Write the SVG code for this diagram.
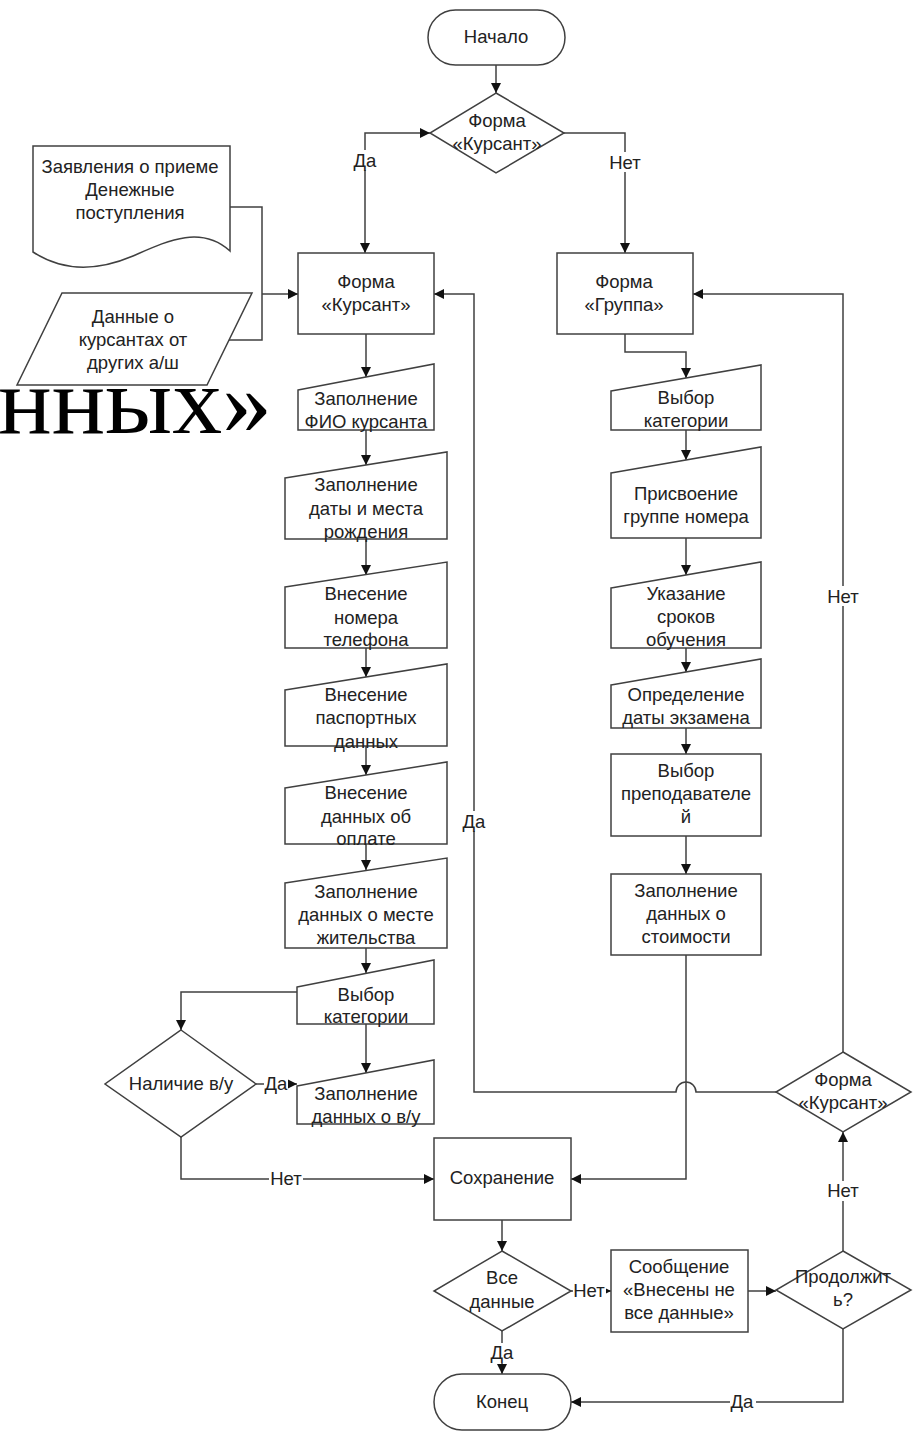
<svg xmlns="http://www.w3.org/2000/svg" width="913" height="1431" viewBox="0 0 913 1431">
<defs>
<marker id="ah" viewBox="0 0 10 10" refX="10" refY="5" markerWidth="10" markerHeight="10" markerUnits="userSpaceOnUse" orient="auto-start-reverse">
<path d="M0,0 L10,5 L0,10 z" fill="#111"/>
</marker>
<style>
.s{fill:#fff;stroke:#404040;stroke-width:1.5}
.c{fill:none;stroke:#404040;stroke-width:1.5}
.a{marker-end:url(#ah)}
text{font-family:"Liberation Sans",Arial,sans-serif;font-size:18.5px;fill:#222;text-anchor:middle}
.lb{fill:#fff;stroke:none}
.big{font-family:"Liberation Serif","Times New Roman",serif;font-size:96px;fill:#000;text-anchor:end}
</style>
</defs>
<rect width="913" height="1431" fill="#fff"/>
<g id="connectors">
<path class="c a" d="M496,65 V93"/>
<path class="c a" d="M430,133 H365 V253" marker-start="url(#ah)"/>
<path class="c a" d="M564,133 H625 V253"/>
<path class="c" d="M230,207 H262 V340 H229"/>
<path class="c a" d="M262,294 H298"/>
<path class="c a" d="M366,334 V377"/>
<path class="c a" d="M366,430 V465"/>
<path class="c a" d="M366,539 V575"/>
<path class="c a" d="M366,648 V677"/>
<path class="c a" d="M366,746 V775"/>
<path class="c a" d="M366,844 V870"/>
<path class="c a" d="M366,948 V973"/>
<path class="c a" d="M366,1024 V1073"/>
<path class="c a" d="M297,992 H181 V1030"/>
<path class="c a" d="M256,1084 H297"/>
<path class="c a" d="M181,1137 V1179 H434"/>
<path class="c a" d="M625,334 V352 H686 V378"/>
<path class="c a" d="M686,430 V460"/>
<path class="c a" d="M686,538 V575"/>
<path class="c a" d="M686,648 V672"/>
<path class="c a" d="M686,728 V754"/>
<path class="c a" d="M686,836 V874"/>
<path class="c a" d="M686,955 V1179 H571"/>
<path class="c a" d="M776,1092 H696 A10,10 0 0 0 676,1092 H474 V294 H434"/>
<path class="c a" d="M843,1052 V294 H693"/>
<path class="c a" d="M502,1220 V1251"/>
<path class="c a" d="M571,1291 H611"/>
<path class="c a" d="M748,1291 H776"/>
<path class="c a" d="M843,1251 V1132"/>
<path class="c a" d="M502,1331 V1374"/>
<path class="c a" d="M843,1329 V1402 H571"/>
<g id="labels">
<rect class="lb" x="352" y="150" width="26" height="20"/><text x="365" y="167">Да</text>
<rect class="lb" x="608" y="152" width="34" height="20"/><text x="625" y="169">Нет</text>
<rect class="lb" x="461" y="811" width="26" height="20"/><text x="474" y="828">Да</text>
<rect class="lb" x="826" y="586" width="34" height="20"/><text x="843" y="603">Нет</text>
<rect class="lb" x="264" y="1076" width="24" height="16"/><text x="276" y="1090">Да</text>
<rect class="lb" x="269" y="1170" width="34" height="18"/><text x="286" y="1185">Нет</text>
<rect class="lb" x="573" y="1282" width="33" height="18"/><text x="589" y="1297">Нет</text>
<rect class="lb" x="826" y="1181" width="34" height="20"/><text x="843" y="1197">Нет</text>
<rect class="lb" x="490" y="1343" width="24" height="20"/><text x="502" y="1359">Да</text>
<rect class="lb" x="730" y="1393" width="26" height="18"/><text x="742" y="1408">Да</text>
</g>
</g>
<g id="start"><rect class="s" x="428" y="10" width="137" height="55" rx="27.5"/><text x="496" y="43">Начало</text></g>
<g id="dec-form1"><polygon class="s" points="496,93 564,133 496,173 430,133"/><text x="497" y="127">Форма</text><text x="497" y="150">«Курсант»</text></g>
<g id="doc"><path class="s" d="M33,146 H230 V251 C200,224 165,242 133,256 C100,270 65,273 33,252 Z"/><text x="130" y="173">Заявления о приеме</text><text x="130" y="196">Денежные</text><text x="130" y="219">поступления</text></g>
<g id="data-other"><polygon class="s" points="62,293 252,293 207,385 17,385"/><text x="133" y="323">Данные о</text><text x="133" y="346">курсантах от</text><text x="133" y="369">других а/ш</text></g>
<g id="form-kursant"><rect class="s" x="298" y="253" width="136" height="81"/><text x="366" y="288">Форма</text><text x="366" y="311">«Курсант»</text></g>
<g id="form-gruppa"><rect class="s" x="557" y="253" width="136" height="81"/><text x="624" y="288">Форма</text><text x="624" y="311">«Группа»</text></g>
<g id="fio"><polygon class="s" points="298,390 434,364 434,430 298,430"/><text x="366" y="405">Заполнение</text><text x="366" y="428">ФИО курсанта</text></g>
<g id="birth"><polygon class="s" points="285,478 447,452 447,539 285,539"/><text x="366" y="491">Заполнение</text><text x="366" y="515">даты и места</text><text x="366" y="538">рождения</text></g>
<g id="phone"><polygon class="s" points="285,587 447,562 447,648 285,648"/><text x="366" y="600">Внесение</text><text x="366" y="624">номера</text><text x="366" y="646">телефона</text></g>
<g id="passport"><polygon class="s" points="285,690 447,664 447,746 285,746"/><text x="366" y="701">Внесение</text><text x="366" y="724">паспортных</text><text x="366" y="748">данных</text></g>
<g id="payment"><polygon class="s" points="285,788 447,762 447,844 285,844"/><text x="366" y="799">Внесение</text><text x="366" y="823">данных об</text><text x="366" y="845">оплате</text></g>
<g id="address"><polygon class="s" points="285,883 447,858 447,948 285,948"/><text x="366" y="898">Заполнение</text><text x="366" y="921">данных о месте</text><text x="366" y="944">жительства</text></g>
<g id="cat-left"><polygon class="s" points="297,987 434,960 434,1024 297,1024"/><text x="366" y="1001">Выбор</text><text x="366" y="1023">категории</text></g>
<g id="vu-data"><polygon class="s" points="297,1086 434,1060 434,1124 297,1124"/><text x="366" y="1100">Заполнение</text><text x="366" y="1123">данных о в/у</text></g>
<g id="dec-vu"><polygon class="s" points="181,1030 256,1084 181,1137 105,1084"/><text x="181" y="1090">Наличие в/у</text></g>
<g id="cat-right"><polygon class="s" points="611,391 761,365 761,430 611,430"/><text x="686" y="404">Выбор</text><text x="686" y="427">категории</text></g>
<g id="group-number"><polygon class="s" points="611,473 761,447 761,538 611,538"/><text x="686" y="500">Присвоение</text><text x="686" y="523">группе номера</text></g>
<g id="terms"><polygon class="s" points="611,588 761,562 761,648 611,648"/><text x="686" y="600">Указание</text><text x="686" y="623">сроков</text><text x="686" y="646">обучения</text></g>
<g id="exam"><polygon class="s" points="611,685 761,659 761,728 611,728"/><text x="686" y="701">Определение</text><text x="686" y="724">даты экзамена</text></g>
<g id="teacher"><rect class="s" x="611" y="754" width="150" height="82"/><text x="686" y="777">Выбор</text><text x="686" y="800">преподавателе</text><text x="686" y="823">й</text></g>
<g id="cost"><rect class="s" x="611" y="874" width="150" height="81"/><text x="686" y="897">Заполнение</text><text x="686" y="920">данных о</text><text x="686" y="943">стоимости</text></g>
<g id="save"><rect class="s" x="434" y="1138" width="137" height="82"/><text x="502" y="1184">Сохранение</text></g>
<g id="dec-all"><polygon class="s" points="502,1251 571,1291 502,1331 434,1291"/><text x="502" y="1284">Все</text><text x="502" y="1308">данные</text></g>
<g id="message"><rect class="s" x="611" y="1250" width="137" height="82"/><text x="679" y="1273">Сообщение</text><text x="679" y="1296">«Внесены не</text><text x="679" y="1319">все данные»</text></g>
<g id="dec-continue"><polygon class="s" points="843,1251 911,1290 843,1329 776,1290"/><text x="843" y="1283">Продолжит</text><text x="843" y="1306">ь?</text></g>
<g id="dec-form2"><polygon class="s" points="843,1052 911,1092 843,1132 776,1092"/><text x="843" y="1086">Форма</text><text x="843" y="1109">«Курсант»</text></g>
<g id="end"><rect class="s" x="434" y="1374" width="137" height="56" rx="28"/><text x="502" y="1408">Конец</text></g>
<text class="big" transform="translate(272,433) scale(1.04,1)" x="0" y="0">нных»</text>
</svg>
